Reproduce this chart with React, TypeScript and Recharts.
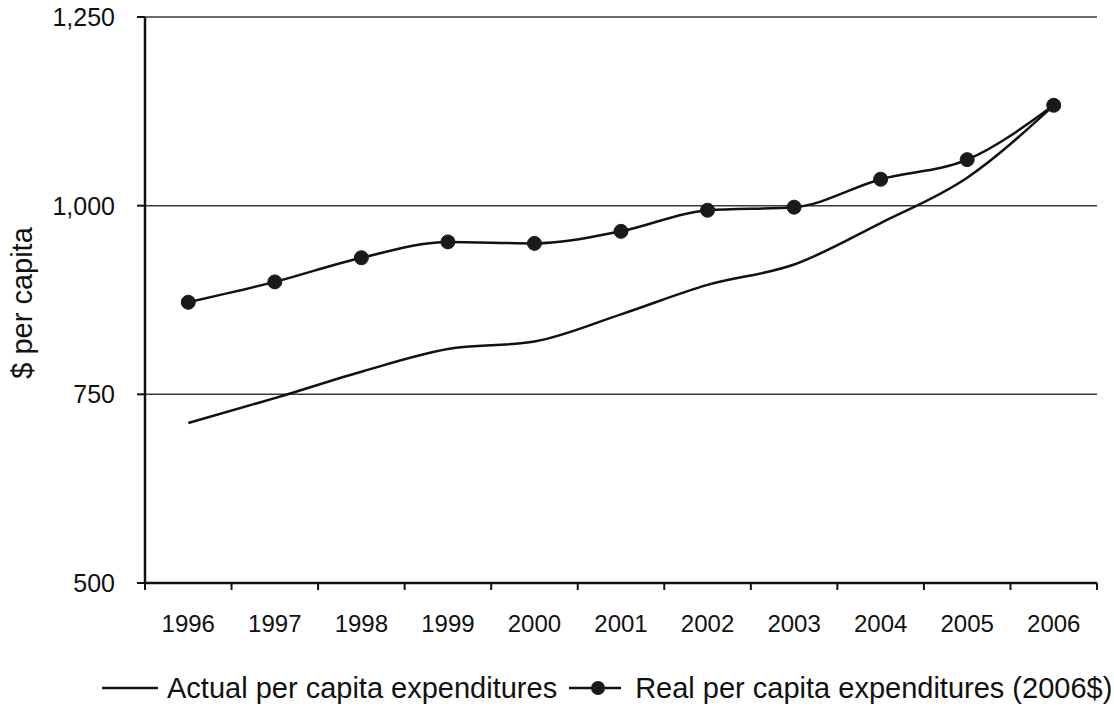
import { LineChart, Line, XAxis, YAxis, CartesianGrid, Legend } from 'recharts';

// Per capita expenditures, 1996-2006
const years = [1996, 1997, 1998, 1999, 2000, 2001, 2002, 2003, 2004, 2005, 2006];
const actualPerCapita = [712, 745, 780, 810, 820, 856, 895, 922, 977, 1037, 1133];
const realPerCapita = [872, 899, 931, 952, 950, 966, 994, 998, 1035, 1061, 1133];
const yTicks = [500, 750, 1000, 1250];

const seriesNames = {
    actual: 'Actual per capita expenditures',
    real: 'Real per capita expenditures (2006$)',
};

const data = years.map((year, i) => ({
    year,
    actual: actualPerCapita[i],
    real: realPerCapita[i],
}));

// tick marks sit between the years, like Excel's "between categories"
const boundaries = [...years.map(y => y - 0.5), years[years.length - 1] + 0.5];

const CHART_W = 1114;
const CHART_H = 708;
const Y_AXIS_W = 145;
const MARGIN_RIGHT = 17;
const BAND = (CHART_W - Y_AXIS_W - MARGIN_RIGHT) / years.length;
const FONT = '"Liberation Sans", Arial, sans-serif';
const INK = '#111';

function YearTick({ x, y, payload }: any) {
    const year = payload.value + 0.5;
    if (year > years[years.length - 1]) return <g />;
    return (
        <text x={x + BAND / 2} y={y} dy="0.71em" textAnchor="middle"
            fontSize={24} fontFamily={FONT} fill={INK}>
            {year}
        </text>
    );
}

function YLabel({ viewBox }: any) {
    const cx = viewBox.x + 22;
    const cy = viewBox.y + viewBox.height / 2 + 3;
    return (
        <text x={cx} y={cy} transform={`rotate(-90, ${cx}, ${cy})`} textAnchor="middle"
            dominantBaseline="central" fontSize={29} fontFamily={FONT} fill={INK}>
            $ per capita
        </text>
    );
}

function LegendContent() {
    return (
        <div style={{
            display: 'flex', alignItems: 'center', height: 55, paddingTop: 15, paddingLeft: 102,
            boxSizing: 'border-box', whiteSpace: 'nowrap', fontFamily: FONT, fontSize: 29, color: INK,
        }}>
            <svg width={56} height={20}>
                <line x1={0} y1={10} x2={56} y2={10} stroke={INK} strokeWidth={2.5} />
            </svg>
            <span style={{ marginLeft: 9 }}>{seriesNames.actual}</span>
            <svg width={52} height={20} style={{ marginLeft: 12 }}>
                <line x1={0} y1={10} x2={52} y2={10} stroke={INK} strokeWidth={2.5} />
                <circle cx={29} cy={10} r={7} fill="#1a1a1a" />
            </svg>
            <span style={{ marginLeft: 14 }}>{seriesNames.real}</span>
        </div>
    );
}

export default function App() {
    return (
        <div style={{ position: 'absolute', left: 0, top: 0, width: CHART_W, height: CHART_H, background: '#fff' }}>
            <LineChart width={CHART_W} height={CHART_H} data={data}
                margin={{ top: 17, right: MARGIN_RIGHT, left: 0, bottom: 0 }}>
                <CartesianGrid vertical={false} stroke="#3a3a3a" strokeWidth={1.5} />

                <XAxis dataKey="year" type="number" domain={[boundaries[0], boundaries[boundaries.length - 1]]}
                    ticks={boundaries} interval={0} height={70} tickSize={7} tickMargin={25}
                    axisLine={{ stroke: INK, strokeWidth: 2.5 }} tickLine={{ stroke: INK, strokeWidth: 2 }}
                    tick={<YearTick />} />
                <XAxis xAxisId="top" orientation="top" type="number"
                    domain={[boundaries[0], boundaries[boundaries.length - 1]]}
                    height={0} tick={false} tickLine={false} axisLine={{ stroke: INK, strokeWidth: 2 }} />

                <YAxis domain={[500, 1250]} ticks={yTicks} interval={0} width={Y_AXIS_W}
                    tickSize={8} tickMargin={22} tickFormatter={(v: number) => v.toLocaleString('en-US')}
                    tick={{ fontSize: 25, fontFamily: FONT, fill: INK }}
                    axisLine={{ stroke: INK, strokeWidth: 2.5 }} tickLine={{ stroke: INK, strokeWidth: 2 }}
                    label={<YLabel />} />
                <YAxis yAxisId="right" orientation="right" domain={[500, 1250]} width={0}
                    tick={false} tickLine={false} axisLine={{ stroke: INK, strokeWidth: 2 }} />

                <Legend verticalAlign="bottom" content={<LegendContent />}
                    wrapperStyle={{ width: CHART_W, left: 0 }} />

                <Line type="monotone" dataKey="actual" name={seriesNames.actual}
                    stroke={INK} strokeWidth={2.5} dot={false} isAnimationActive={false} />
                <Line type="monotone" dataKey="real" name={seriesNames.real}
                    stroke={INK} strokeWidth={2.5}
                    dot={{ r: 7, fill: '#1a1a1a', stroke: '#1a1a1a', strokeWidth: 1 }}
                    isAnimationActive={false} />
            </LineChart>
        </div>
    );
}
